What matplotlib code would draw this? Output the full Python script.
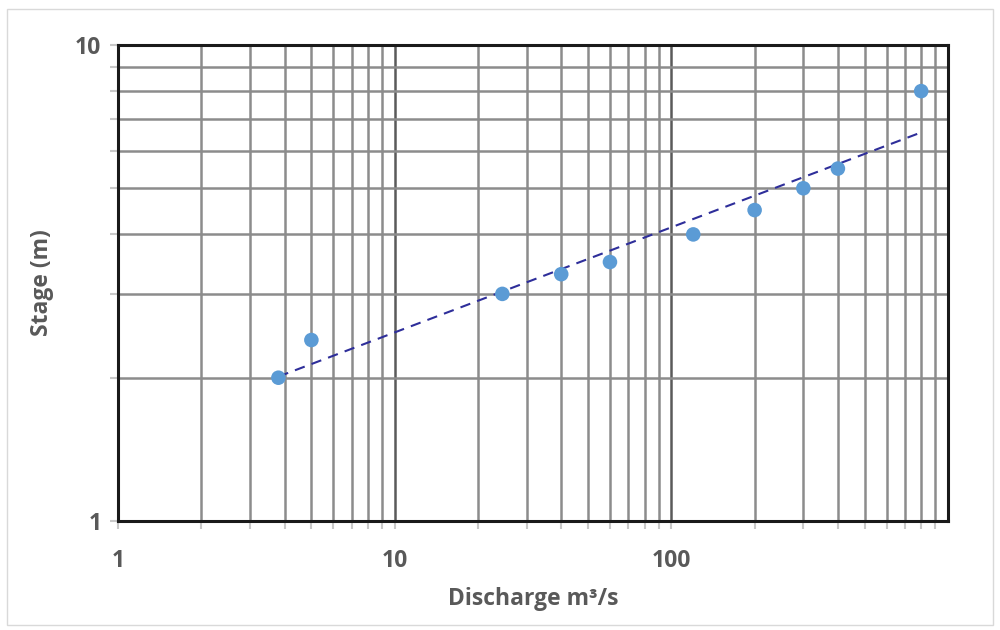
import matplotlib
matplotlib.use("Agg")
import matplotlib.pyplot as plt
import numpy as np
from matplotlib.patches import Rectangle
from matplotlib.ticker import LogLocator, FixedLocator, NullFormatter

discharge = [3.8, 5, 24.5, 40, 60, 120, 200, 300, 400, 800]
stage = [2.0, 2.4, 3.0, 3.3, 3.5, 4.0, 4.5, 5.0, 5.5, 8.0]
x_ticks = [1, 10, 100]
x_tick_labels = ["1", "10", "100"]
y_ticks = [1, 10]
y_tick_labels = ["1", "10"]

txt = "#595959"
plt.rcParams['font.family'] = ['Open Sans', 'DejaVu Sans']

fig = plt.figure(figsize=(10, 6.3), dpi=100)
ax = fig.add_axes([0.118, 0.173, 0.830, 0.7556])

# chart border
fig.patches.append(Rectangle((0.007, 0.008), 0.986, 0.978, transform=fig.transFigure,
                             fill=False, edgecolor="#d9d9d9", linewidth=1))

ax.set_xscale("log")
ax.set_yscale("log")
ax.set_xlim(1, 1000)
ax.set_ylim(1, 10)

# grid
ax.xaxis.set_minor_locator(LogLocator(base=10, subs=np.arange(2, 10)))
ax.yaxis.set_minor_locator(LogLocator(base=10, subs=np.arange(2, 10)))
ax.xaxis.set_minor_formatter(NullFormatter())
ax.yaxis.set_minor_formatter(NullFormatter())
ax.grid(True, which="minor", color="#8c8c8c", linewidth=1.8, zorder=0)
ax.grid(True, which="major", color="#5a5a5a", linewidth=1.8, zorder=0)
ax.set_axisbelow(True)

ax.xaxis.set_major_locator(FixedLocator(x_ticks))
ax.set_xticklabels(x_tick_labels)
ax.yaxis.set_major_locator(FixedLocator(y_ticks))
ax.set_yticklabels(y_tick_labels)
ax.tick_params(which="both", direction="out", length=6, width=1.5, color="#c8c8c8",
               labelsize=16.5, labelcolor=txt)
ax.tick_params(axis="x", pad=14)
ax.tick_params(axis="y", pad=6)
for lab in ax.get_xticklabels() + ax.get_yticklabels():
    lab.set_fontweight("bold")

for s in ax.spines.values():
    s.set_color("#1a1a1a")
    s.set_linewidth(2.2)

# power trendline
logx = np.log10(discharge)
logy = np.log10(stage)
b, a = np.polyfit(logx, logy, 1)
xt = np.array([min(discharge), max(discharge)])
ax.plot(xt, 10 ** a * xt ** b, color="#2e2e9a", linestyle=(0, (5, 3.5)), linewidth=1.5, zorder=3)

ax.scatter(discharge, stage, s=110, color="#5b9bd5", edgecolors="none", zorder=4)

ax.set_xlabel("Discharge m³/s", fontsize=16.5, fontweight="bold", color=txt, labelpad=10)
ax.set_ylabel("Stage (m)", fontsize=16.5, fontweight="bold", color=txt, labelpad=15)

fig.savefig("out.png", dpi=100)
